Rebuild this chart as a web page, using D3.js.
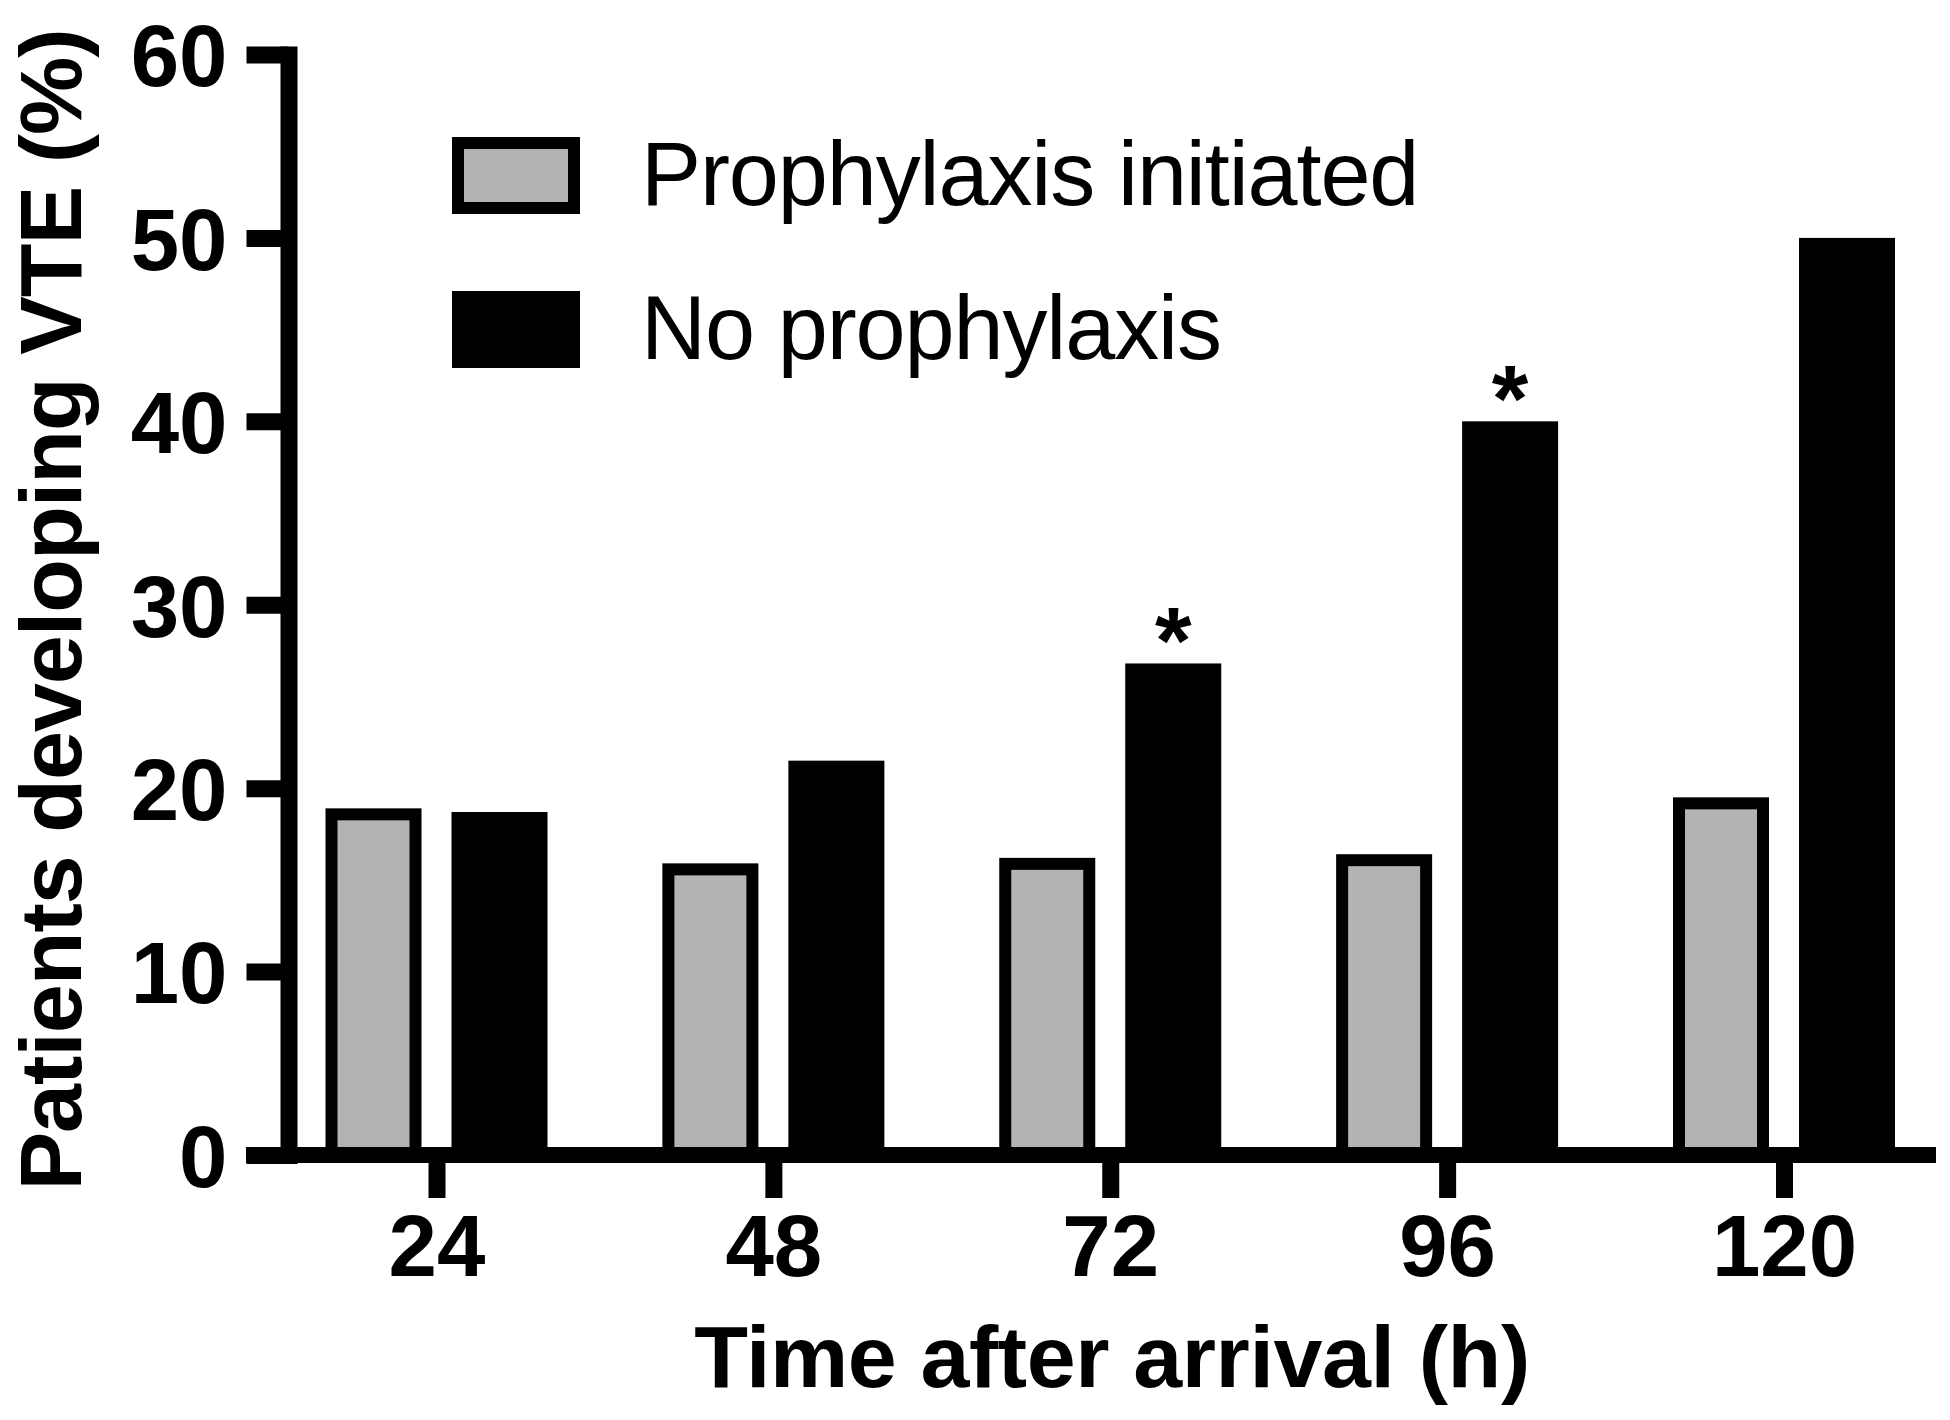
<!DOCTYPE html>
<html>
<head>
<meta charset="utf-8">
<script src="https://cdn.jsdelivr.net/npm/d3@7"></script>
<style>
  html, body { margin: 0; padding: 0; background: #fff; }
  svg { display: block; }
</style>
</head>
<body>
<script>
// ---- data ----
const categories = ["24", "48", "72", "96", "120"];
const seriesNames = ["Prophylaxis initiated", "No prophylaxis"];
const prophylaxisValues = [18.9, 15.9, 16.2, 16.4, 19.5];
const noProphylaxisValues = [18.7, 21.5, 26.8, 40.0, 50.0];
const significant = [false, false, true, true, false]; // asterisks on "No prophylaxis"
const yTicks = [0, 10, 20, 30, 40, 50, 60];
const xTitle = "Time after arrival (h)";
const yTitle = "Patients developing VTE (%)";

// ---- layout ----
const W = 1950, H = 1420;
const axisX = 288.5, axisY = 1155;
const LW = 17;
const GRAY = "#b3b3b3";
const FONT = "'Liberation Sans', Arial, Helvetica, sans-serif";

const svg = d3.select("body").append("svg")
  .attr("width", W).attr("height", H)
  .style("font-family", FONT);

const y = d3.scaleLinear().domain([0, 60]).range([axisY, 54.5]);
const x = d3.scalePoint().domain(categories).range([436.5, 1784]);
const xSub = d3.scaleBand().domain(seriesNames).range([-111, 111])
  .paddingInner(30 / 126).paddingOuter(0);

const rows = categories.map((c, i) => ({
  cat: c,
  vals: [
    { s: seriesNames[0], v: prophylaxisValues[i] },
    { s: seriesNames[1], v: noProphylaxisValues[i], sig: significant[i] }
  ]
}));

// ---- bars ----
const BORDER = 12;
const g = svg.append("g");
const groups = g.selectAll("g.grp").data(rows).join("g")
  .attr("class", "grp")
  .attr("transform", d => `translate(${x(d.cat)},0)`);

groups.selectAll("rect.outer").data(d => d.vals).join("rect")
  .attr("class", "outer")
  .attr("x", d => xSub(d.s))
  .attr("y", d => y(d.v))
  .attr("width", xSub.bandwidth())
  .attr("height", d => axisY - y(d.v))
  .attr("fill", "#000");

groups.selectAll("rect.inner").data(d => d.vals.filter(v => v.s === seriesNames[0])).join("rect")
  .attr("class", "inner")
  .attr("x", d => xSub(d.s) + BORDER)
  .attr("y", d => y(d.v) + BORDER)
  .attr("width", xSub.bandwidth() - 2 * BORDER)
  .attr("height", d => axisY - y(d.v) - BORDER)
  .attr("fill", GRAY);

// asterisks
groups.selectAll("text.sig").data(d => d.vals.filter(v => v.sig)).join("text")
  .attr("class", "sig")
  .attr("x", d => xSub(d.s) + xSub.bandwidth() / 2)
  .attr("y", d => y(d.v) + 10)
  .attr("text-anchor", "middle")
  .attr("font-size", 94)
  .attr("font-weight", "bold")
  .text("*");

// ---- y axis ----
const yAxis = svg.append("g")
  .attr("transform", `translate(${axisX},0)`)
  .call(d3.axisLeft(y).tickValues(yTicks).tickSize(42).tickPadding(19).tickSizeOuter(0));
yAxis.select(".domain").attr("stroke", "#000").attr("stroke-width", LW)
  .attr("stroke-linecap", "square");
yAxis.selectAll(".tick line").attr("stroke", "#000").attr("stroke-width", LW);
yAxis.selectAll(".tick text")
  .attr("font-size", 87).attr("font-weight", "bold").attr("fill", "#000")
  .attr("font-family", FONT).attr("dy", "0.36em");

// ---- x axis ----
const xAxis = svg.append("g")
  .attr("transform", `translate(0,${axisY})`)
  .call(d3.axisBottom(x).tickSize(43).tickPadding(16).tickSizeOuter(0));
xAxis.select(".domain").remove();
xAxis.append("line")
  .attr("x1", 246).attr("x2", 1936).attr("y1", 0).attr("y2", 0)
  .attr("stroke", "#000").attr("stroke-width", 16);
xAxis.selectAll(".tick line").attr("stroke", "#000").attr("stroke-width", LW);
xAxis.selectAll(".tick text")
  .attr("font-size", 87).attr("font-weight", "bold").attr("fill", "#000")
  .attr("font-family", FONT);

// ---- titles ----
svg.append("text")
  .attr("x", 1112).attr("y", 1387)
  .attr("text-anchor", "middle")
  .attr("font-size", 88).attr("font-weight", "bold")
  .attr("letter-spacing", -0.4)
  .text(xTitle);

svg.append("text")
  .attr("transform", "translate(81,610) rotate(-90)")
  .attr("text-anchor", "middle")
  .attr("font-size", 88).attr("font-weight", "bold")
  .attr("letter-spacing", -1)
  .text(yTitle);

// ---- legend ----
const legend = svg.append("g");
const li = legend.selectAll("g").data(seriesNames).join("g")
  .attr("transform", (d, i) => `translate(452,${137 + i * 154})`);
li.append("rect")
  .attr("width", 128).attr("height", 77).attr("fill", "#000");
li.filter((d, i) => i === 0).append("rect")
  .attr("x", BORDER).attr("y", BORDER)
  .attr("width", 128 - 2 * BORDER).attr("height", 77 - 2 * BORDER)
  .attr("fill", GRAY);
li.append("text")
  .attr("x", 189).attr("y", 68)
  .attr("font-size", 90)
  .attr("letter-spacing", -1.1)
  .text(d => d);
</script>
</body>
</html>
